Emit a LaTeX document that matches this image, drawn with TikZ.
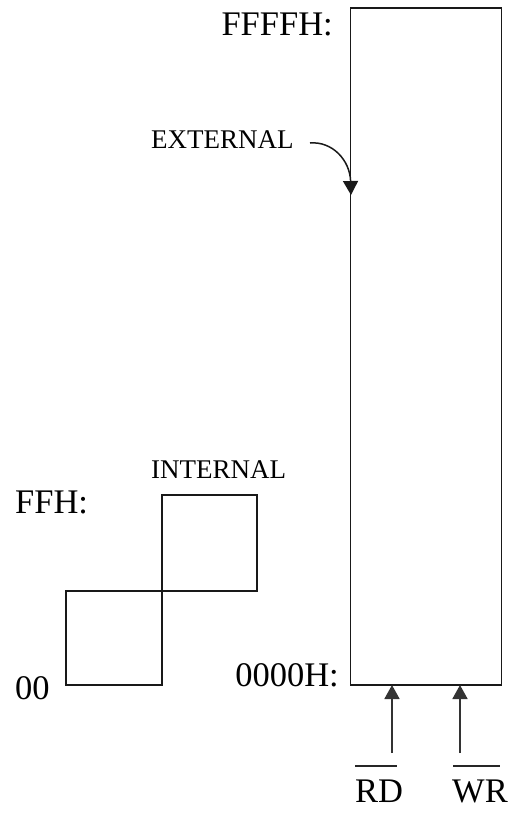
\documentclass[tikz,border=0pt]{standalone}
\usepackage{fontspec}
\setmainfont{Liberation Serif}
\usetikzlibrary{arrows.meta,calc}
\begin{document}
\begin{tikzpicture}[x=1pt,y=-1pt,
  memline/.style={draw=black!90,line width=1.6pt},
  box/.style={memline,inner sep=0pt,outer sep=0pt},
  biglabel/.style={inner sep=0pt,font=\fontsize{34.5}{38}\selectfont},
  smalllabel/.style={inner sep=0pt,font=\fontsize{27}{31}\selectfont},
  sigarrow/.style={draw=black!80,line width=1.8pt,-{Triangle[length=14pt,width=15pt]}},
  barline/.style={draw=black!85,line width=1.5pt}]
\useasboundingbox (0,0) rectangle (515,819);
% external memory
\node[box,minimum width=151pt,minimum height=677pt] (ext) at (426,346.5) {};
% internal memory squares
\node[box,minimum width=96pt,minimum height=94pt] (lo) at (114,638) {};
\node[box,minimum width=95pt,minimum height=96pt] (hi) at (209.5,543) {};
% labels
\node[biglabel,anchor=base east] (ffffh) at (333,35) {FFFFH:};
\node[biglabel,anchor=base east] (h0000) at (339,686) {0000H:};
\node[biglabel,anchor=base west] (ffh) at (15,513) {FFH:};
\node[biglabel,anchor=base west] (z00) at (15,699) {00};
\node[smalllabel,anchor=base west] (extl) at (151,148) {EXTERNAL};
\node[smalllabel,anchor=base west] (intl) at (151,478) {INTERNAL};
\node[biglabel,anchor=base west] (rd) at (355,802) {RD};
\node[biglabel,anchor=base west] (wr) at (452,802) {WR};
% overbars
\draw[barline] ([yshift=36pt]rd.base west) -- ([yshift=36pt,xshift=-6pt]rd.base east);
\draw[barline] ([yshift=36pt,xshift=1pt]wr.base west) -- ([yshift=36pt,xshift=-8pt]wr.base east);
% external arrow
\coordinate (extstart) at (310,143);
\coordinate (extend) at (351,195);
\draw[sigarrow,draw=black!90,line width=1.5pt] (extstart) .. controls (332,141) and (350,160) .. (extend);
% control signal arrows
\coordinate (rdtail) at (392,753);
\coordinate (wrtail) at (460,753);
\draw[sigarrow] (rdtail) -- (rdtail |- ext.south);
\draw[sigarrow] (wrtail) -- (wrtail |- ext.south);
\end{tikzpicture}
\end{document}
